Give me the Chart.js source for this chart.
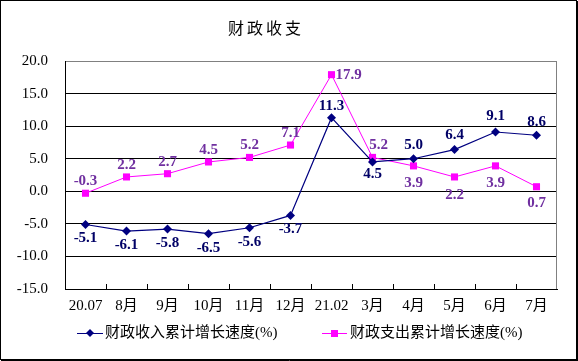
<!DOCTYPE html>
<html lang="zh">
<head>
  <meta charset="UTF-8" />
  <title>财政收支</title>
  <script src="https://cdn.jsdelivr.net/npm/chart.js"></script>
  <style>
    html, body { margin: 0; padding: 0; background: #fff; }
    #wrap { width: 578px; height: 361px; }
  </style>
</head>
<body>
  <div id="wrap">
    <canvas id="chart" width="578" height="361"></canvas>
  </div>

  <script>
    // 数据
    const months = ["20.07", "8月", "9月", "10月", "11月", "12月", "21.02", "3月", "4月", "5月", "6月", "7月"];
    const revenueGrowth = [-5.1, -6.1, -5.8, -6.5, -5.6, -3.7, 11.3, 4.5, 5.0, 6.4, 9.1, 8.6];
    const spendingGrowth = [-0.3, 2.2, 2.7, 4.5, 5.2, 7.1, 17.9, 5.2, 3.9, 2.2, 3.9, 0.7];
    const yTicks = [-15, -10, -5, 0, 5, 10, 15, 20];
    const seriesNames = ["财政收入累计增长速度(%)", "财政支出累计增长速度(%)"];

    const serif = "'Liberation Serif', 'Noto Sans CJK SC', serif";
    const navy = "#000080";
    const magenta = "#FF00FF";

    // 数据标签偏移 [dx, dy]
    const labelOffsets = [
      [[0, 14], [0, 14], [0, 14], [0, 14], [0, 14], [0, 14], [0, -12], [0, 12], [0, -14], [0, -14], [0, -16], [0, -13]],
      [[0, -12], [0, -12], [0, -12], [0, -12], [0, -12], [0, -12], ["r", 0], [6, -12], [0, 17], [0, 18], [0, 17], [0, 16]]
    ];
    const labelColors = ["#000066", "#7030A0"];

    const extras = {
      id: "extras",
      afterDatasetsDraw(chart) {
        const ctx = chart.ctx;
        const area = chart.chartArea;
        ctx.save();

        // 数据标签
        ctx.font = "bold 15px " + serif;
        ctx.textBaseline = "middle";
        chart.data.datasets.forEach((ds, di) => {
          const meta = chart.getDatasetMeta(di);
          ctx.fillStyle = labelColors[di];
          meta.data.forEach((pt, i) => {
            const off = labelOffsets[di][i];
            const txt = ds.data[i].toFixed(1);
            if (off[0] === "r") {
              ctx.textAlign = "left";
              ctx.fillText(txt, pt.x + 4, pt.y + off[1]);
            } else {
              ctx.textAlign = "center";
              ctx.fillText(txt, pt.x + off[0], pt.y + off[1]);
            }
          });
        });

        // 右边框
        ctx.strokeStyle = "#808080";
        ctx.lineWidth = 1;
        ctx.beginPath();
        ctx.moveTo(Math.round(area.right) - 0.5, area.top);
        ctx.lineTo(Math.round(area.right) - 0.5, area.bottom);
        ctx.stroke();

        // 横轴内刻度
        ctx.strokeStyle = "#000";
        const step = (area.right - area.left) / months.length;
        ctx.beginPath();
        for (let i = 1; i < months.length; i++) {
          const x = Math.round(area.left + i * step) + 0.5;
          ctx.moveTo(x, area.bottom);
          ctx.lineTo(x, area.bottom - 5);
        }
        ctx.stroke();

        // 标题
        ctx.fillStyle = "#000";
        ctx.font = "16px 'Noto Sans CJK SC', sans-serif";
        ctx.textAlign = "center";
        const title = "财政收支";
        for (let i = 0; i < title.length; i++) {
          ctx.fillText(title[i], 236 + i * 19, 28);
        }

        // 图例
        const ly = 333;
        ctx.font = "15px " + serif;
        ctx.textAlign = "left";
        ctx.lineWidth = 1;
        ctx.strokeStyle = navy;
        ctx.beginPath(); ctx.moveTo(77, ly + 0.5); ctx.lineTo(103, ly + 0.5); ctx.stroke();
        ctx.fillStyle = navy;
        ctx.beginPath();
        ctx.moveTo(90, ly - 4); ctx.lineTo(94, ly); ctx.lineTo(90, ly + 4); ctx.lineTo(86, ly);
        ctx.closePath(); ctx.fill();
        ctx.fillStyle = "#000";
        ctx.fillText(seriesNames[0], 105, ly);

        ctx.strokeStyle = magenta;
        ctx.beginPath(); ctx.moveTo(322, ly + 0.5); ctx.lineTo(347, ly + 0.5); ctx.stroke();
        ctx.fillStyle = magenta;
        ctx.fillRect(331, ly - 3, 7, 7);
        ctx.fillStyle = "#000";
        ctx.fillText(seriesNames[1], 350, ly);

        // 外框
        ctx.strokeStyle = "#000";
        ctx.lineWidth = 1;
        ctx.strokeRect(0.5, 0.5, 576, 359);
        ctx.beginPath();
        ctx.moveTo(577.5, 1); ctx.lineTo(577.5, 361);
        ctx.moveTo(1, 360.5); ctx.lineTo(578, 360.5);
        ctx.stroke();

        ctx.restore();
      }
    };

    new Chart(document.getElementById("chart").getContext("2d"), {
      type: "line",
      data: {
        labels: months,
        datasets: [
          {
            label: seriesNames[0],
            data: revenueGrowth,
            borderColor: navy,
            backgroundColor: navy,
            borderWidth: 1.2,
            pointStyle: "rectRot",
            pointRadius: 4.5,
            pointBorderWidth: 0,
            tension: 0
          },
          {
            label: seriesNames[1],
            data: spendingGrowth,
            borderColor: magenta,
            backgroundColor: magenta,
            borderWidth: 1,
            pointStyle: "rect",
            pointRadius: 5,
            pointBorderWidth: 0,
            tension: 0
          }
        ]
      },
      options: {
        responsive: false,
        animation: false,
        layout: { padding: { top: 61, right: 21, bottom: 0, left: 0 } },
        plugins: {
          legend: { display: false },
          title: { display: false },
          tooltip: { enabled: false }
        },
        scales: {
          x: {
            offset: true,
            grid: { display: true, drawOnChartArea: false, drawTicks: false },
            border: { color: "#000", width: 1 },
            ticks: { color: "#000", font: { family: serif, size: 15 }, padding: 8, maxRotation: 0, autoSkip: false },
            afterFit(scale) { scale.height = 72; }
          },
          y: {
            min: yTicks[0],
            max: yTicks[yTicks.length - 1],
            afterBuildTicks(scale) { scale.ticks = yTicks.map(v => ({ value: v })); },
            grid: {
              drawTicks: false,
              color: c => (c.tick && c.tick.value === 20 ? "#808080" : "#000")
            },
            border: { color: "#000", width: 1 },
            ticks: {
              color: "#000",
              font: { family: serif, size: 15 },
              padding: 17,
              callback: v => Number(v).toFixed(1)
            },
            afterFit(scale) { scale.width = 65; }
          }
        }
      },
      plugins: [extras]
    });
  </script>
</body>
</html>
